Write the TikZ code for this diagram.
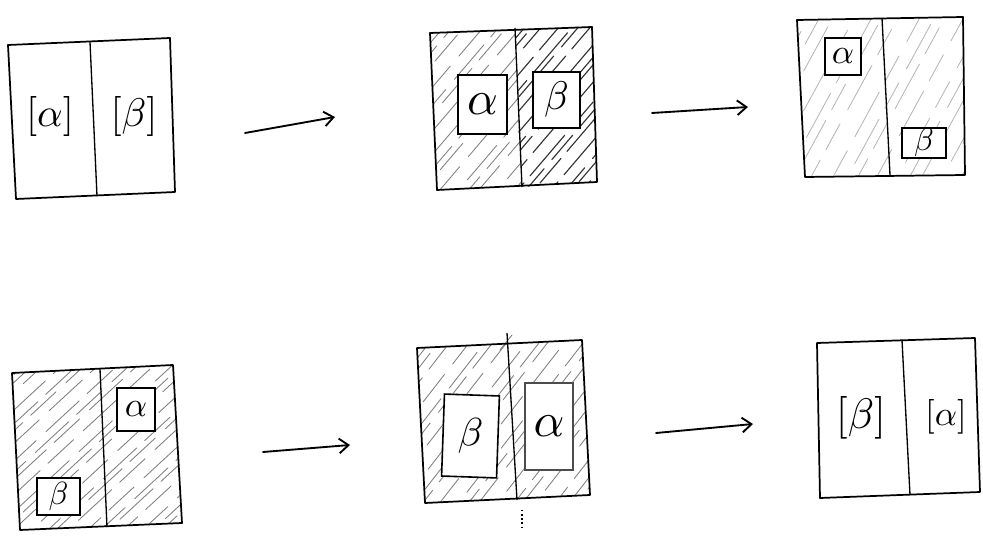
\documentclass[tikz,border=0pt]{standalone}
\usepackage{graphicx}
\usetikzlibrary{arrows.meta}
\tikzset{
  panel/.style={line width=1.3pt, line join=round},
  divider/.style={line width=1pt},
  lbox/.style={draw, line width=1.1pt, fill=white, inner sep=0pt},
  lbl/.style={inner sep=0pt},
  hlight/.style={draw=black!30, line width=0.6pt, line cap=round, dash pattern=on 38pt off 9pt on 22pt off 12pt},
  hmid/.style={draw=black!50, line width=0.65pt, line cap=round, dash pattern=on 34pt off 8pt on 26pt off 10pt},
  hdark/.style={draw=black!80, line width=0.85pt, line cap=round, dash pattern=on 40pt off 9pt on 24pt off 7pt},
  flow/.style={line width=1.4pt, line cap=round, -{Straight Barb[length=7pt,width=11pt,line width=1.4pt]}},
}
\newcommand\sym[2]{\scalebox{#1}{$#2$}}
\newcommand\hatchfill[7]{% #1 xstart, #2 count, #3 step, #4 ytop, #5 ybot, #6 dx, #7 style
  \foreach \i in {0,...,#2}{%
    \pgfmathsetmacro\hx{#1+\i*#3+4*sin(\i*97)}%
    \pgfmathsetmacro\hph{mod(\i*23,70)}%
    \draw[#7, dash phase=\hph pt] (\hx,#5) -- ++(#6,{#4-#5});}}
\begin{document}
\begin{tikzpicture}[x=0.75pt,y=-0.75pt]
\useasboundingbox (0,0) rectangle (983,538);

% ---------- panel 1 ----------
\draw[panel] (8,45) -- (170,38) -- (175,192) -- (16,199) -- cycle;
\draw[divider] (90,42) -- (97,196);
\node[lbl] (p1a) at (50,117) {\sym{3.0}{[\alpha]}};
\node[lbl] (p1b) at (134,117) {\sym{3.0}{[\beta]}};

% ---------- panel 2 ----------
\begin{scope}
  \clip (430,33) -- (515,29) -- (522,187) -- (437,190) -- cycle;
  \hatchfill{285}{22}{14}{28}{192}{140}{hmid}
\end{scope}
\begin{scope}
  \clip (515,29) -- (592,27) -- (597,182) -- (522,187) -- cycle;
  \hatchfill{370}{20}{12}{26}{190}{140}{hdark}
\end{scope}
\draw[panel] (430,33) -- (592,27) -- (597,182) -- (437,190) -- cycle;
\draw[divider] (515,28) -- (522,187);
\node[lbox, minimum width=36.75pt, minimum height=44.25pt] (p2a) at (482.5,104.5) {\sym{3.6}{\alpha}};
\node[lbox, minimum width=35.25pt, minimum height=42pt] (p2b) at (556.5,100) {\sym{3.0}{\beta}};

% ---------- panel 3 ----------
\begin{scope}
  \clip (797,20) -- (963,17) -- (965,175) -- (805,177) -- cycle;
  \hatchfill{700}{17}{16}{15}{180}{90}{hlight}
\end{scope}
\draw[panel] (797,20) -- (963,17) -- (965,175) -- (805,177) -- cycle;
\draw[divider] (882,18) -- (890,175);
\node[lbox, minimum width=27pt, minimum height=27.75pt] (p3a) at (843,56.5) {\sym{2.6}{\alpha}};
\node[lbox, minimum width=33pt, minimum height=22.5pt] (p3b) at (924,143) {\sym{2.4}{\beta}};

% ---------- panel 4 ----------
\begin{scope}
  \clip (12,373) -- (173,365) -- (182,523) -- (20,530) -- cycle;
  \hatchfill{-175}{27}{13.5}{362}{533}{185}{hmid}
\end{scope}
\draw[panel] (12,373) -- (173,365) -- (182,523) -- (20,530) -- cycle;
\draw[divider] (100,369) -- (107,527);
\node[lbox, minimum width=28.5pt, minimum height=32.25pt] (p4a) at (136,409.5) {\sym{2.6}{\alpha}};
\node[lbox, minimum width=32.25pt, minimum height=27.75pt] (p4b) at (58.5,496.5) {\sym{2.4}{\beta}};

% ---------- panel 5 ----------
\begin{scope}
  \clip (417,348) -- (582,340) -- (590,495) -- (425,503) -- cycle;
  \hatchfill{285}{22}{14}{338}{505}{130}{hmid}
\end{scope}
\draw[hmid] (500,350) -- (512,335);
\draw[panel] (417,348) -- (582,340) -- (590,495) -- (425,503) -- cycle;
\draw[divider] (507,333) -- (517,500);
\node[lbox, line width=1.2pt, minimum width=41.25pt, minimum height=61.5pt, rotate=-2] (p5b) at (470.5,436) {\sym{3.0}{\beta}};
\node[lbox, draw=black!70, line width=0.9pt, minimum width=36pt, minimum height=65.25pt] (p5a) at (549,426.5) {\sym{3.6}{\alpha}};
\coordinate (ds) at (522,510);
\coordinate (de) at (522,528);
\draw[dotted, line width=1.1pt] (ds) -- (de);

% ---------- panel 6 ----------
\draw[panel] (817,343) -- (975,338) -- (980,492) -- (820,498) -- cycle;
\draw[divider] (902,340) -- (910,495);
\node[lbl] (p6b) at (861,418) {\sym{3.2}{[\beta]}};
\node[lbl] (p6a) at (946,417) {\sym{2.6}{[\alpha]}};

% ---------- arrows ----------
\coordinate (a1s) at (245,133); \coordinate (a1e) at (335,117);
\coordinate (a2s) at (652,113); \coordinate (a2e) at (748,107);
\coordinate (a3s) at (263,452); \coordinate (a3e) at (350,445);
\coordinate (a4s) at (656,433); \coordinate (a4e) at (753,424);
\draw[flow] (a1s) -- (a1e);
\draw[flow] (a2s) -- (a2e);
\draw[flow] (a3s) -- (a3e);
\draw[flow] (a4s) -- (a4e);
\end{tikzpicture}
\end{document}
